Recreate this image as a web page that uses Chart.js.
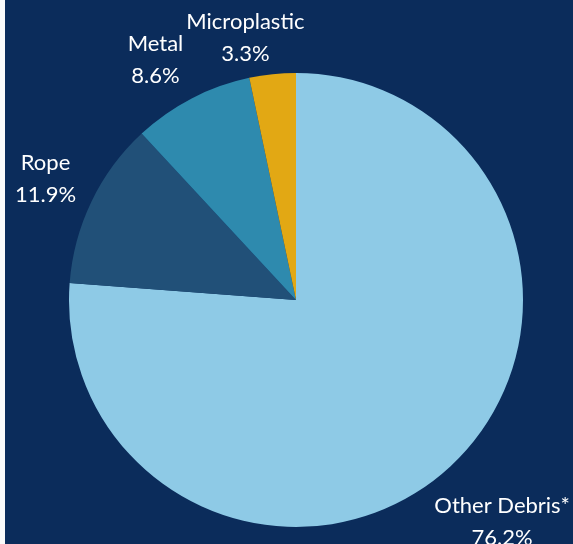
<!DOCTYPE html>
<html>
<head>
<meta charset="utf-8">
<script src="https://cdn.jsdelivr.net/npm/chart.js@4"></script>
<style>
  html, body { margin:0; padding:0; background:#fafafa; overflow:hidden; }
  #wrap { position:absolute; left:5px; top:0; width:568px; height:544px; background:#0b2c5b; }
</style>
</head>
<body>
<div id="wrap"><canvas id="pie" width="568" height="544"></canvas></div>
<script>
const categories = ['Other Debris*', 'Rope', 'Metal', 'Microplastic'];
const shares     = [76.2, 11.9, 8.6, 3.3];
const colours    = ['#8ecae6', '#215078', '#2e8aae', '#e2a814'];

// label placement: reach as multiple of radius, and a small angular nudge (deg)
const labelReach = [1.335, 1.225, 1.225, 1.175];
const labelNudge = [0, 0, -3, -5];

const outerLabels = {
  id: 'outerLabels',
  afterDraw(chart) {
    const ctx = chart.ctx;
    const arcs = chart.getDatasetMeta(0).data;
    ctx.save();
    ctx.fillStyle = '#ffffff';
    ctx.font = '22px Lato, "Noto Sans", sans-serif';
    ctx.textAlign = 'center';
    ctx.textBaseline = 'middle';
    arcs.forEach((a, i) => {
      const mid = (a.startAngle + a.endAngle) / 2 + labelNudge[i] * Math.PI / 180;
      const r = a.outerRadius * labelReach[i];
      const x = a.x + Math.cos(mid) * r;
      const y = a.y + Math.sin(mid) * r;
      ctx.fillText(categories[i], x, y - 16);
      ctx.fillText(shares[i].toFixed(1) + '%', x, y + 16);
    });
    ctx.restore();
  }
};

new Chart(document.getElementById('pie'), {
  type: 'pie',
  data: {
    labels: categories,
    datasets: [{ data: shares, backgroundColor: colours, borderWidth: 0 }]
  },
  options: {
    responsive: false,
    animation: false,
    layout: { padding: { left: 64, right: 50, top: 73, bottom: 17 } },
    plugins: { legend: { display: false }, tooltip: { enabled: false } }
  },
  plugins: [outerLabels]
});
</script>
</body>
</html>
